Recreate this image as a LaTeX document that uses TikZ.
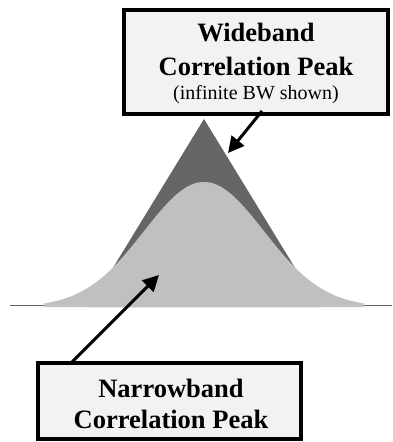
\documentclass[tikz,border=0pt]{standalone}
\usepackage{fontspec}
\setmainfont{Liberation Serif}
\usetikzlibrary{arrows.meta}
\definecolor{darkpk}{HTML}{666666}
\definecolor{lightpk}{HTML}{C0C0C0}
\definecolor{boxfill}{HTML}{F2F2F2}
\definecolor{baseln}{HTML}{606060}
\tikzset{
  labelbox/.style={draw=black, line width=4pt, fill=boxfill, rectangle, inner sep=0pt},
  bigtxt/.style={font=\fontsize{26.5}{30}\selectfont\bfseries, anchor=base, inner sep=0pt},
  smalltxt/.style={font=\fontsize{20}{24}\selectfont, anchor=base, inner sep=0pt},
  arr/.style={line width=3pt, -{Triangle[length=16pt,width=16pt]}},
}
\begin{document}
\begin{tikzpicture}[x=1pt,y=-1pt]
\useasboundingbox (0,0) rectangle (392,442);
% baseline
\coordinate (bl) at (10,305.5);
\coordinate (br) at (392,305.5);
\draw[baseln, line width=1.5pt] (bl) -- (br);
% wideband triangle
\fill[darkpk] (89,307) -- (204,119) -- (319,307) -- cycle;
% narrowband gaussian
\fill[lightpk] (44,307) -- plot[domain=-160:160, samples=161, smooth] ({204+\x},{307-125*exp(-0.5*(\x/60)*(\x/60))}) -- (364,307) -- cycle;
% top box
\node[labelbox, minimum width=264.5pt, minimum height=104pt] (wb) at (255.75,61.5) {};
\node[bigtxt] (wb1) at (256,41.5) {Wideband};
\node[bigtxt] (wb2) at (256,75) {Correlation Peak};
\node[smalltxt] (wb3) at (256,99) {(infinite BW shown)};
% bottom box
\node[labelbox, minimum width=262.5pt, minimum height=76pt] (nb) at (169.25,401) {};
\node[bigtxt] (nb1) at (171,397) {Narrowband};
\node[bigtxt] (nb2) at (171,428) {Correlation Peak};
% arrows
\coordinate (a1s) at (262,111);
\coordinate (a1e) at (228,153);
\draw[arr] (a1s) -- (a1e);
\coordinate (a2s) at (72,362);
\coordinate (a2e) at (159,275);
\draw[arr] (a2s) -- (a2e);
\end{tikzpicture}
\end{document}
